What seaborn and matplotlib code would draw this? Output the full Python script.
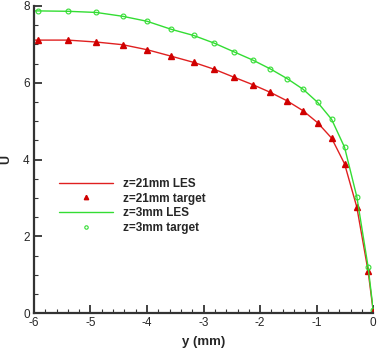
import pandas as pd
import seaborn as sns
import matplotlib.pyplot as plt
from matplotlib.ticker import MultipleLocator

# Wall-normal positions (mm) and velocity profiles
y_target = [-5.92, -5.40, -4.90, -4.43, -4.00, -3.57, -3.175, -2.81, -2.456, -2.13,
            -1.82, -1.525, -1.24, -0.984, -0.737, -0.507, -0.29, -0.09, 0.0]
u21_target = [7.11, 7.11, 7.06, 6.99, 6.86, 6.69, 6.53, 6.35, 6.14, 5.95,
              5.75, 5.53, 5.27, 4.96, 4.56, 3.89, 2.76, 1.09, 0.05]
u3_target = [7.87, 7.86, 7.83, 7.73, 7.60, 7.39, 7.23, 7.03, 6.80, 6.59,
             6.36, 6.11, 5.83, 5.49, 5.05, 4.32, 3.03, 1.20, 0.08]

y_les = [-6.0] + y_target
u21_les = [7.11] + u21_target
u3_les = [7.87] + u3_target

x_ticks = [-6, -5, -4, -3, -2, -1, 0]
y_ticks = [0, 2, 4, 6, 8]

les = pd.DataFrame({'y': y_les, 'u21': u21_les, 'u3': u3_les})
tgt = pd.DataFrame({'y': y_target, 'u21': u21_target, 'u3': u3_target})

sns.set_theme(style="ticks")
plt.rcParams['font.family'] = ['Liberation Sans', 'DejaVu Sans']
plt.rcParams['axes.unicode_minus'] = False

fig = plt.figure(figsize=(3.77, 3.48), dpi=100)
ax = fig.add_axes([0.09, 0.10, 0.90, 0.883])

red = '#e02020'
green = '#33dd33'

sns.lineplot(data=les, x='y', y='u21', ax=ax, color=red, linewidth=1.0,
             label='z=21mm LES', sort=False)
ax.plot(tgt['y'], tgt['u21'], linestyle='none', marker='^', markersize=4.5,
        color='#d00000', label='z=21mm target')
sns.lineplot(data=les, x='y', y='u3', ax=ax, color=green, linewidth=1.0,
             label='z=3mm LES', sort=False)
ax.plot(tgt['y'], tgt['u3'], linestyle='none', marker='o', markersize=3.5,
        markerfacecolor='none', markeredgecolor=green, markeredgewidth=0.8,
        label='z=3mm target')

ax.set_xlim(-6, 0)
ax.set_ylim(0, 8)
ax.set_xticks(x_ticks)
ax.set_yticks(y_ticks)
ax.xaxis.set_minor_locator(MultipleLocator(0.2))
ax.yaxis.set_minor_locator(MultipleLocator(0.5))

ax.set_xlabel('y (mm)', fontsize=9.5, fontweight='bold', labelpad=5)
ax.set_ylabel('U', fontsize=9, fontweight='bold', labelpad=8)

for loc, spine in ax.spines.items():
    if loc in ['left', 'bottom']:
        spine.set_color('#333333')
        spine.set_linewidth(1.6)
    else:
        spine.set_visible(False)

ax.tick_params(axis='both', which='major', direction='in', length=6, width=1.3,
               color='#333333', labelsize=8.5, pad=3)
ax.tick_params(axis='both', which='minor', direction='in', length=3, width=0.8,
               color='#333333')

ax.legend(loc='upper left', bbox_to_anchor=(0.074, 0.44), frameon=False,
          borderpad=0, borderaxespad=0, handlelength=4.6, handletextpad=0.85,
          labelspacing=0.22, markerscale=0.7, prop={'size': 8.5, 'weight': 'bold'})

plt.savefig('out.png', dpi=100)
